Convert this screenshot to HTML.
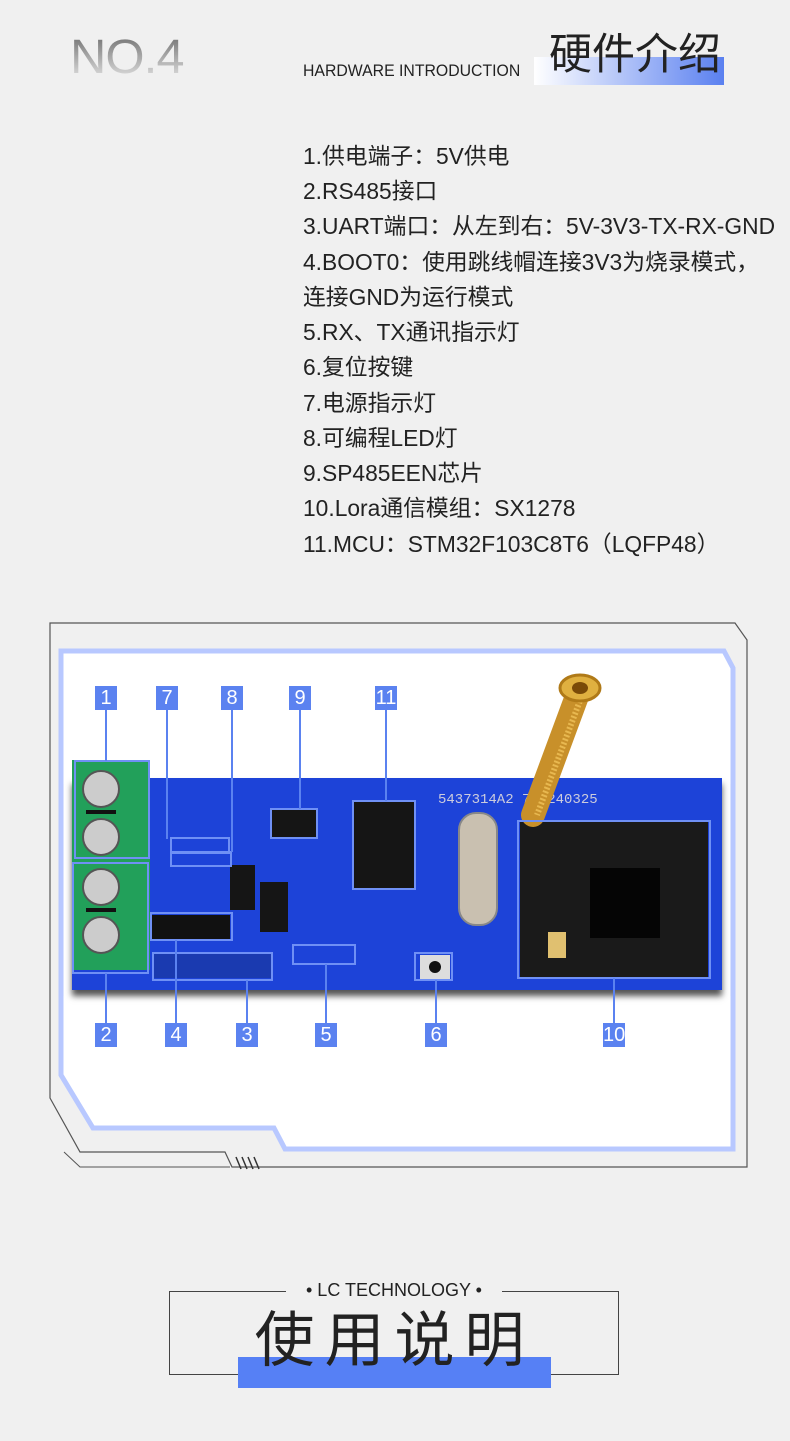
<!DOCTYPE html>
<html><head><meta charset="utf-8"><style>
body{margin:0;width:790px;height:1441px;background:#f0f0f0;position:relative;overflow:hidden;font-family:"Liberation Sans","Noto Sans CJK SC",sans-serif;}
.a{position:absolute;}
.lbl{position:absolute;width:22px;height:24px;background:#5b82f0;color:#fff;font-size:20px;line-height:24px;text-align:center;font-family:"Liberation Sans",sans-serif;}
.ln{position:absolute;background:#5b82f0;width:2px;}
.bx{position:absolute;border:2px solid #6f90f5;box-sizing:border-box;}
.li{position:absolute;left:303px;font-size:22.8px;color:#222;white-space:nowrap;line-height:28px;}
.chip{position:absolute;background:#151515;}
</style></head><body>
<div class="a" style="left:70px;top:30px;font-size:48px;letter-spacing:-1px;background:linear-gradient(#666,#eee);-webkit-background-clip:text;color:transparent;transform:scaleX(1.05);transform-origin:left;">NO.4</div>
<div class="a" style="left:534px;top:57px;width:190px;height:28px;background:linear-gradient(90deg,#fff,#5a80f0);"></div>
<div class="a" style="left:303px;top:61px;font-size:17px;color:#222;transform:scaleX(0.93);transform-origin:left;">HARDWARE INTRODUCTION</div>
<div class="a" style="left:549px;top:30px;font-size:43px;color:#222;font-family:'Noto Sans CJK SC',sans-serif;line-height:1;">硬件介绍</div>

<div class="li" style="top:142px">1.供电端子：5V供电</div>
<div class="li" style="top:177px">2.RS485接口</div>
<div class="li" style="top:212px">3.UART端口：从左到右：5V-3V3-TX-RX-GND</div>
<div class="li" style="top:248px">4.BOOT0：使用跳线帽连接3V3为烧录模式，</div>
<div class="li" style="top:283px">连接GND为运行模式</div>
<div class="li" style="top:318px">5.RX、TX通讯指示灯</div>
<div class="li" style="top:353px">6.复位按键</div>
<div class="li" style="top:389px">7.电源指示灯</div>
<div class="li" style="top:424px">8.可编程LED灯</div>
<div class="li" style="top:459px">9.SP485EEN芯片</div>
<div class="li" style="top:494px">10.Lora通信模组：SX1278</div>
<div class="li" style="top:530px">11.MCU：STM32F103C8T6（LQFP48）</div>

<svg class="a" style="left:0;top:0" width="790" height="1441">
<path d="M50,623 L735,623 L747,640 L747,1167 L232,1167 L225,1152 L80,1152 L50,1098 Z" fill="none" stroke="#555" stroke-width="1.2"/>
<path d="M64,1152 L80,1167 L230,1167" fill="none" stroke="#555"/>
<path d="M236,1157l5,12M242,1157l5,12M248,1157l5,12M254,1157l5,12" stroke="#333" stroke-width="1.5"/>
<path d="M61,651 L724,651 L733,668 L733,1149 L285,1149 L274,1128 L93,1128 L61,1075 Z" fill="#fff" stroke="#b8c8ff" stroke-width="5"/>
</svg>

<div class="a" style="left:72px;top:778px;width:650px;height:212px;background:#1d43d8;box-shadow:0 6px 6px #555;"></div>
<div class="a" style="left:72px;top:760px;width:78px;height:210px;background:#22a05a;"></div>
<div class="a" style="left:82px;top:770px;width:34px;height:34px;border-radius:50%;background:#ccc;border:2px solid #555"></div>
<div class="a" style="left:82px;top:818px;width:34px;height:34px;border-radius:50%;background:#ccc;border:2px solid #555"></div>
<div class="a" style="left:82px;top:868px;width:34px;height:34px;border-radius:50%;background:#ccc;border:2px solid #555"></div>
<div class="a" style="left:82px;top:916px;width:34px;height:34px;border-radius:50%;background:#ccc;border:2px solid #555"></div>
<div class="a" style="left:86px;top:810px;width:30px;height:4px;background:#111"></div>
<div class="a" style="left:86px;top:908px;width:30px;height:4px;background:#111"></div>
<div class="chip" style="left:272px;top:810px;width:44px;height:28px"></div>
<div class="chip" style="left:353px;top:801px;width:62px;height:88px"></div>
<div class="chip" style="left:230px;top:865px;width:25px;height:45px"></div>
<div class="chip" style="left:260px;top:882px;width:28px;height:50px"></div>
<div class="a" style="left:458px;top:812px;width:36px;height:110px;border-radius:18px;background:#c9c0b0;border:2px solid #888"></div>
<div class="chip" style="left:520px;top:822px;width:188px;height:155px;background:#1a1a1a"></div>
<div class="chip" style="left:590px;top:868px;width:70px;height:70px;background:#050505"></div>
<div class="a" style="left:548px;top:932px;width:18px;height:26px;background:#e0c070"></div>
<div class="a" style="left:420px;top:955px;width:30px;height:24px;background:#ddd"></div>
<div class="a" style="left:429px;top:961px;width:12px;height:12px;border-radius:50%;background:#111"></div>
<div class="a" style="left:153px;top:953px;width:118px;height:25px;background:#1a3ab0"></div>
<div class="a" style="left:438px;top:792px;font-size:14px;color:#ccd;font-family:'Liberation Mono',monospace">5437314A2 77_240325</div>
<div class="a" style="left:150px;top:915px;width:80px;height:24px;background:#111"></div>

<svg class="a" style="left:0;top:0" width="790" height="1441">
<line x1="580" y1="688" x2="533" y2="815" stroke="#c8902a" stroke-width="24" stroke-linecap="round"/>
<line x1="584" y1="690" x2="537" y2="815" stroke="#e8b850" stroke-width="6" stroke-dasharray="2 2"/>
<ellipse cx="580" cy="688" rx="20" ry="13" fill="#e0b040" stroke="#b07a18" stroke-width="3"/>
<ellipse cx="580" cy="688" rx="8" ry="6" fill="#7a4a08"/>
</svg>

<div class="bx" style="left:74px;top:760px;width:76px;height:99px"></div>
<div class="bx" style="left:72px;top:862px;width:77px;height:112px"></div>
<div class="bx" style="left:170px;top:837px;width:60px;height:17px"></div>
<div class="bx" style="left:170px;top:851px;width:62px;height:16px"></div>
<div class="bx" style="left:270px;top:808px;width:48px;height:31px"></div>
<div class="bx" style="left:352px;top:800px;width:64px;height:90px"></div>
<div class="bx" style="left:150px;top:912px;width:83px;height:29px"></div>
<div class="bx" style="left:152px;top:952px;width:121px;height:29px"></div>
<div class="bx" style="left:292px;top:944px;width:64px;height:21px"></div>
<div class="bx" style="left:414px;top:952px;width:39px;height:29px"></div>
<div class="bx" style="left:517px;top:820px;width:194px;height:159px"></div>
<div class="ln" style="left:105px;top:709px;height:52px"></div>
<div class="ln" style="left:166px;top:709px;height:130px"></div>
<div class="ln" style="left:231px;top:709px;height:143px"></div>
<div class="ln" style="left:299px;top:709px;height:100px"></div>
<div class="ln" style="left:385px;top:709px;height:92px"></div>
<div class="ln" style="left:105px;top:973px;height:50px"></div>
<div class="ln" style="left:175px;top:940px;height:83px"></div>
<div class="ln" style="left:246px;top:980px;height:43px"></div>
<div class="ln" style="left:325px;top:964px;height:59px"></div>
<div class="ln" style="left:435px;top:980px;height:43px"></div>
<div class="ln" style="left:613px;top:978px;height:45px"></div>
<div class="lbl" style="left:95px;top:686px">1</div>
<div class="lbl" style="left:156px;top:686px">7</div>
<div class="lbl" style="left:221px;top:686px">8</div>
<div class="lbl" style="left:289px;top:686px">9</div>
<div class="lbl" style="left:375px;top:686px">11</div>
<div class="lbl" style="left:95px;top:1023px">2</div>
<div class="lbl" style="left:165px;top:1023px">4</div>
<div class="lbl" style="left:236px;top:1023px">3</div>
<div class="lbl" style="left:315px;top:1023px">5</div>
<div class="lbl" style="left:425px;top:1023px">6</div>
<div class="lbl" style="left:603px;top:1023px">10</div>

<div class="a" style="left:169px;top:1291px;width:450px;height:84px;border:1.5px solid #444;box-sizing:border-box;"></div>
<div class="a" style="left:286px;top:1278px;width:216px;height:24px;background:#f0f0f0;text-align:center;font-size:18px;color:#222;line-height:24px;">• LC TECHNOLOGY •</div>
<div class="a" style="left:238px;top:1357px;width:313px;height:31px;background:#5680f5;"></div>
<div class="a" style="left:228px;top:1300px;width:333px;text-align:center;font-size:60px;line-height:72px;letter-spacing:10px;color:#222;font-family:'Noto Sans CJK SC',sans-serif;">使用说明</div>
</body></html>
